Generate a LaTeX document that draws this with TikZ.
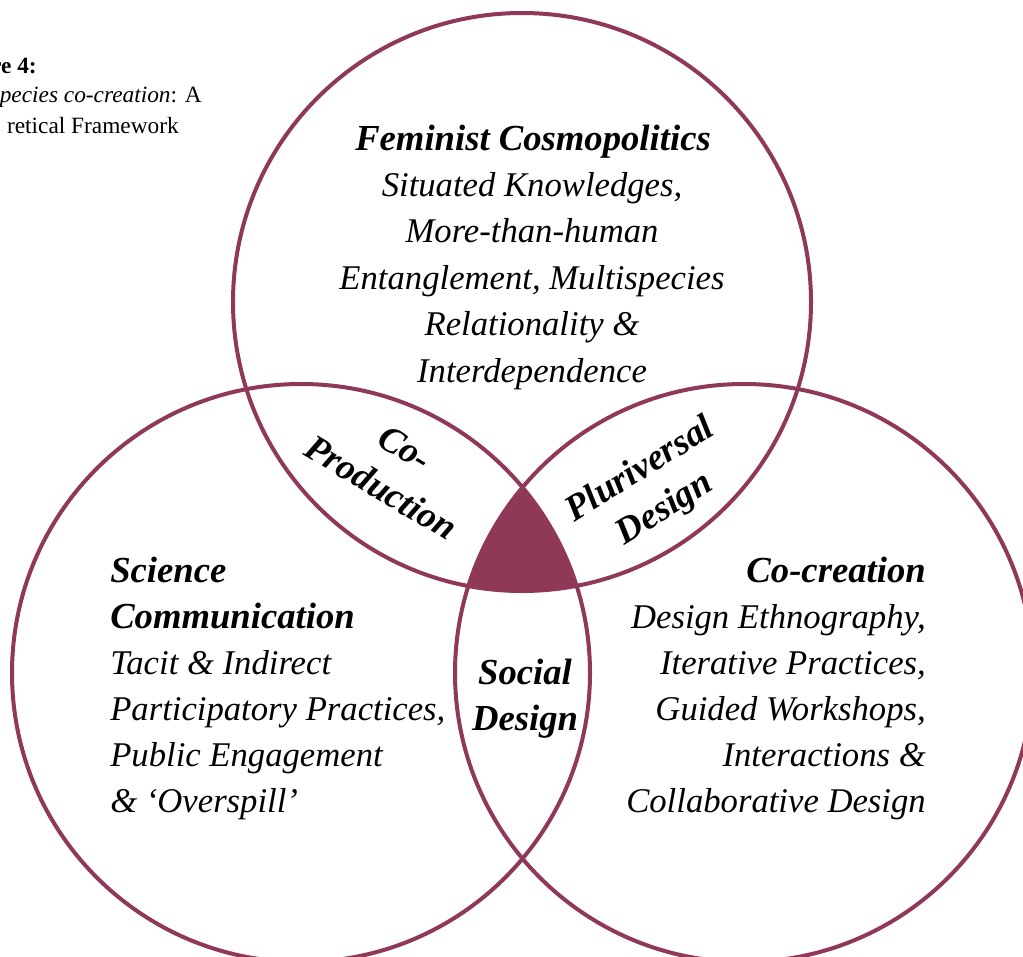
\documentclass[tikz,border=0pt]{standalone}
\usepackage{fontspec}
\setmainfont{Liberation Serif}
\usetikzlibrary{positioning}
\definecolor{venn}{RGB}{143,56,88}

\begin{document}
\begin{tikzpicture}
[x=0.75pt,y=-0.75pt,
  ring/.style = {draw=venn,line width=3pt},
  body/.style = {font=\fontsize{26}{34.5}\selectfont\itshape,inner sep=0pt},
  head/.style = {font=\fontsize{27.5}{34.5}\selectfont\bfseries\itshape,inner sep=0pt},
  overlap/.style = {head,align=center},
  caption/.style = {font=\fontsize{17.5}{22}\selectfont,inner sep=0pt,anchor=base east}]
%
\useasboundingbox (0,0) rectangle (1023,956);
\clip (0,0) rectangle (1023,956);

\coordinate (top) at (522,302);
\coordinate (left) at (301,673);
\coordinate (right) at (744,673);

% middle overlap
\begin{scope}
  \clip (top) circle (216.75pt);
  \clip (left) circle (216.75pt);
  \fill[venn] (right) circle (216.75pt);
\end{scope}
%
\draw[ring] (top) circle (216.75pt);
\draw[ring] (left) circle (216.75pt);
\draw[ring] (right) circle (216.75pt);

% caption
\node[caption] (cap1) at (37,74) {\textbf{re 4:}};
\node[caption] (cap2) at (202,103) {\textit{species co-creation}: A};
\node[caption] (cap3) at (179,133) {retical Framework};

% top circle
\node[head,anchor=base] (FC0) at (533,150) {Feminist Cosmopolitics};
\node[body,anchor=base] (FC1) at (532,196.4) {Situated Knowledges,};
\node[body,anchor=base] (FC2) at (532,242.8) {More-than-human};
\node[body,anchor=base] (FC3) at (532,289.2) {Entanglement, Multispecies};
\node[body,anchor=base] (FC4) at (532,335.6) {Relationality \&};
\node[body,anchor=base] (FC5) at (532,382) {Interdependence};

% left circle
\node[head,anchor=base west] (SC0) at (110,582) {Science};
\node[head,anchor=base west] (SC1) at (110,628) {Communication};
\node[body,anchor=base west] (SC2) at (110,674) {Tacit \& Indirect};
\node[body,anchor=base west] (SC3) at (110,720) {Participatory Practices,};
\node[body,anchor=base west] (SC4) at (110,766) {Public Engagement};
\node[body,anchor=base west] (SC5) at (110,812) {\& `Overspill'};

% right circle
\node[head,anchor=base east] (CC0) at (926,582) {Co-creation};
\node[body,anchor=base east] (CC1) at (926,628) {Design Ethnography,};
\node[body,anchor=base east] (CC2) at (926,674) {Iterative Practices,};
\node[body,anchor=base east] (CC3) at (926,720) {Guided Workshops,};
\node[body,anchor=base east] (CC4) at (926,766) {Interactions \&};
\node[body,anchor=base east] (CC5) at (926,812) {Collaborative Design};

% overlaps
\node[head,anchor=base] (SD0) at (525,684) {Social};
\node[head,anchor=base] (SD1) at (525,730) {Design};
\node[overlap,rotate=-31] (CP) at (393,468) {Co-\\Production};
\node[overlap,rotate=32] (PD) at (653,490) {Pluriversal\\Design};
\end{tikzpicture}
\end{document}
